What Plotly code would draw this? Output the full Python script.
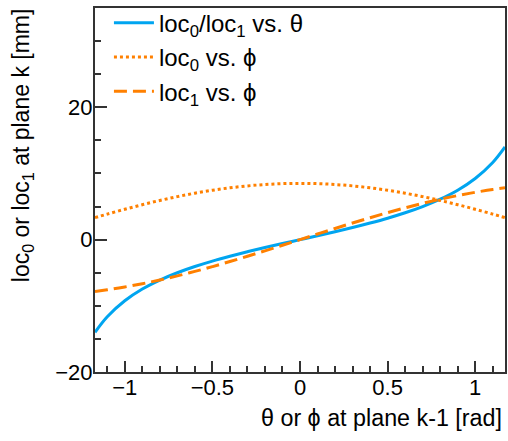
import plotly.graph_objects as go

# angle values [rad] at which curves were read
angle = [-1.17, -1.1, -1.0, -0.9, -0.8, -0.7, -0.6, -0.5, -0.4, -0.3, -0.2, -0.1, 0.0,
         0.1, 0.2, 0.3, 0.4, 0.5, 0.6, 0.7, 0.8, 0.9, 1.0, 1.1, 1.17]

# loc0/loc1 vs theta [mm]
loc_theta = [-14.0, -11.65, -9.24, -7.47, -6.11, -5.00, -4.06, -3.24, -2.51, -1.83, -1.20, -0.59, 0.0,
             0.59, 1.20, 1.83, 2.51, 3.24, 4.06, 5.00, 6.11, 7.47, 9.24, 11.65, 14.0]

# loc0 vs phi [mm]
loc0_phi = [3.32, 3.86, 4.59, 5.28, 5.92, 6.50, 7.02, 7.46, 7.83, 8.12, 8.33, 8.46, 8.5,
            8.46, 8.33, 8.12, 7.83, 7.46, 7.02, 6.50, 5.92, 5.28, 4.59, 3.86, 3.32]

# loc1 vs phi [mm]
loc1_phi = [-7.83, -7.58, -7.15, -6.66, -6.10, -5.48, -4.80, -4.08, -3.31, -2.51, -1.69, -0.85, 0.0,
            0.85, 1.69, 2.51, 3.31, 4.08, 4.80, 5.48, 6.10, 6.66, 7.15, 7.58, 7.83]

names = ["loc<sub>0</sub>/loc<sub>1</sub> vs. θ",
         "loc<sub>0</sub> vs. ϕ",
         "loc<sub>1</sub> vs. ϕ"]

x_range = [-1.17, 1.17]
y_range = [-20, 35]
x_ticks = [-1, -0.5, 0, 0.5, 1]
x_ticktext = ["−1", "−0.5", "0", "0.5", "1"]
y_ticks = [-20, 0, 20]
y_ticktext = ["−20", "0", "20"]

BLUE = "rgb(0,165,240)"
ORANGE = "rgb(255,128,0)"
FONT = "Liberation Sans, Arial, sans-serif"
AX = "#333"

fig = go.Figure()
fig.add_trace(go.Scatter(x=angle, y=loc_theta, mode="lines", name=names[0],
                         line=dict(color=BLUE, width=3, shape="spline"), legendgroup="a"))
fig.add_trace(go.Scatter(x=angle, y=loc0_phi, mode="lines", name=names[1],
                         line=dict(color=ORANGE, width=3, dash="3px,3px", shape="spline"), legendgroup="b"))
fig.add_trace(go.Scatter(x=angle, y=loc1_phi, mode="lines", name=names[2],
                         line=dict(color=ORANGE, width=3, dash="13px,6px", shape="spline"), legendgroup="c"))

fig.update_layout(
    width=508, height=441,
    margin=dict(l=95, r=3, t=8, b=69, autoexpand=False),
    paper_bgcolor="white", plot_bgcolor="white",
    font=dict(family=FONT, size=22, color="black"),
    showlegend=True,
    legend=dict(x=0.034, y=1.02, xanchor="left", yanchor="top",
                bgcolor="rgba(0,0,0,0)", font=dict(size=24),
                tracegroupgap=0, itemwidth=40),
    xaxis=dict(range=x_range, tickvals=x_ticks, ticktext=x_ticktext,
               ticks="inside", ticklen=11, tickwidth=1.5, tickcolor=AX,
               minor=dict(ticks="inside", dtick=0.1, ticklen=6, tickwidth=1.5, tickcolor=AX),
               showline=True, linecolor=AX, linewidth=2, mirror=True,
               showgrid=False, zeroline=False, tickfont=dict(size=22),
               ticklabelstandoff=-5),
    yaxis=dict(range=y_range, tickvals=y_ticks, ticktext=y_ticktext,
               ticks="inside", ticklen=12, tickwidth=1.5, tickcolor=AX,
               minor=dict(ticks="inside", dtick=5, ticklen=6, tickwidth=1.5, tickcolor=AX),
               showline=True, linecolor=AX, linewidth=2, mirror=True,
               showgrid=False, zeroline=False, tickfont=dict(size=22),
               ticklabelstandoff=-4),
    annotations=[
        dict(text="θ or ϕ at plane k-1 [rad]", xref="paper", yref="paper",
             x=0.998, y=-0.127, xanchor="right", yanchor="middle", showarrow=False,
             font=dict(size=23.3)),
        dict(text="loc<sub>0</sub> or loc<sub>1</sub> at plane k [mm]", xref="paper", yref="paper",
             x=-0.178, y=1.005, xanchor="center", yanchor="top", textangle=-90, showarrow=False,
             font=dict(size=23)),
    ],
)

fig.write_html("out.html", config={"displayModeBar": False},
               post_script="document.body.style.margin='0';document.body.style.overflow='hidden';")
